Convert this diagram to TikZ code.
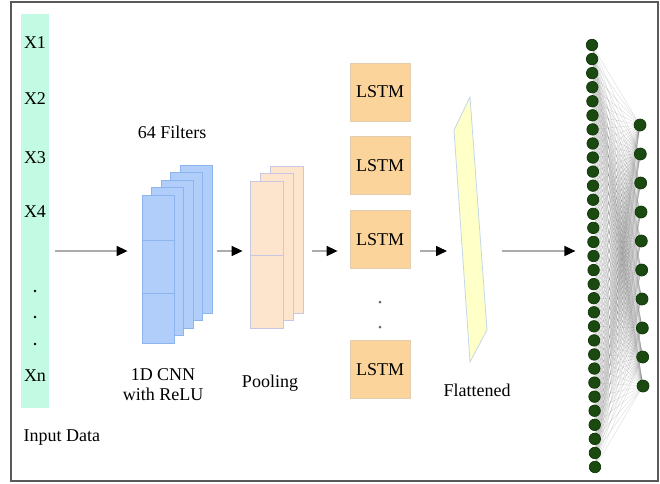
\documentclass[tikz,border=0pt]{standalone}
\usepackage{fontspec}
\setmainfont{Liberation Serif}
\usepackage{tikz}
\usetikzlibrary{arrows.meta, positioning, backgrounds, calc}
\usepackage{xcolor}
\definecolor{inputgreen}{RGB}{195,250,228}
\definecolor{cnnblue}{RGB}{176,206,249}
\definecolor{cnnedge}{RGB}{140,180,238}
\definecolor{poolfill}{RGB}{253,229,205}
\definecolor{pooledge}{RGB}{200,198,225}
\definecolor{lstmfill}{RGB}{250,212,155}
\definecolor{lstmedge}{RGB}{228,205,172}
\definecolor{flatfill}{RGB}{255,255,200}
\definecolor{flatedge}{RGB}{195,215,232}
\definecolor{neurongreen}{RGB}{26,74,16}
\tikzstyle{inputcol} = [rectangle, minimum width=28pt, minimum height=394pt, inner sep=0pt, fill=inputgreen]
\tikzstyle{cnnmap} = [rectangle, minimum width=32pt, minimum height=148pt, inner sep=0pt, draw=cnnedge, fill=cnnblue, line width=0.8pt]
\tikzstyle{poolmap} = [rectangle, minimum width=33pt, minimum height=147pt, inner sep=0pt, draw=pooledge, fill=poolfill, line width=0.8pt]
\tikzstyle{lstm} = [rectangle, minimum width=60pt, minimum height=58pt, text centered, draw=lstmedge, fill=lstmfill, line width=0.8pt]
\tikzstyle{neuron} = [circle, minimum size=11.5pt, inner sep=0pt, fill=neurongreen, draw=neurongreen!70!black, line width=0.7pt]
\tikzstyle{link} = [gray!85!black, line width=0.45pt, opacity=0.22]
\tikzstyle{vdot} = [circle, minimum size=2.6pt, inner sep=0pt, fill=black]
\tikzstyle{arrow} = [gray!65, line width=1.6pt, -{Triangle[length=11pt,width=10pt,color=black]}]

\begin{document}
\begin{tikzpicture}[x=1pt, y=-1pt, font=\fontsize{18}{20}\selectfont]
        \useasboundingbox (0,0) rectangle (660,483);
        \draw [line width=1.3pt, black!65] (11,2) rectangle (658,481);
        \coordinate (axis) at (0,251);

        % input data
        \node (input) [inputcol] at (35,211) {};
        \node (x1) at (35,43) {X1};
        \node (x2) at (35,99) {X2};
        \node (x3) at (35,158) {X3};
        \node (x4) at (35,212) {X4};
        \node (idot1) [vdot] at (35,291) {};
        \node (idot2) [vdot] at (35,317) {};
        \node (idot3) [vdot] at (35,344) {};
        \node (xn) at (35,376) {Xn};
        \node (inlabel) [anchor=west] at (20,438) {Input Data};

        % 1D CNN
        \foreach \k in {4,3,...,0}
            \node (cnn\k) [cnnmap] at ({158+9.5*\k},{269-7.5*\k}) {};
        \draw [cnnedge, line width=0.8pt] (cnn0.west |- 0,240) -- (cnn0.east |- 0,240);
        \draw [cnnedge, line width=0.8pt] (cnn0.west |- 0,293) -- (cnn0.east |- 0,293);
        \node (filters) at (172,132) {64 Filters};
        \node (cnnlabel) [align=center] at (163,385) {1D CNN\\with ReLU};

        % pooling
        \foreach \k in {2,1,0}
            \node (pool\k) [poolmap] at ({266.5+10*\k},{254.5-7.5*\k}) {};
        \draw [pooledge, line width=0.8pt] (pool0.west |- 0,255) -- (pool0.east |- 0,255);
        \node (poollabel) at (270,383) {Pooling};

        % lstm
        \node (lstm1) [lstm] at (380,92) {LSTM};
        \node (lstm2) [lstm, below=15pt of lstm1] {LSTM};
        \node (lstm3) [lstm, below=15pt of lstm2] {LSTM};
        \node (lstm4) [lstm, below=71pt of lstm3] {LSTM};
        \node (ldot1) [vdot, fill=black!60, minimum size=3pt] at (380,302) {};
        \node (ldot2) [vdot, fill=black!60, minimum size=3pt] at (380,327) {};

        % flattened
        \draw [flatedge, fill=flatfill, line width=0.8pt] (470,97) -- (487,330) -- (470,362) -- (454,130) -- cycle;
        \coordinate (flatin) at (462,251);
        \coordinate (flatout) at (481,251);
        \node (flatlabel) at (477,390) {Flattened};

        % dense layers
        \foreach \i in {1,...,31}
            \node (l\i) [neuron] at ({592+3*(\i-1)/30},{45+(\i-1)*422/30}) {};
        \foreach \j in {1,...,10}
            \node (r\j) [neuron, minimum size=12pt] at ({640+3*(\j-1)/9},{125+(\j-1)*29}) {};
        \begin{scope}[on background layer]
            \foreach \i in {1,...,31}
                \foreach \j in {1,...,10}
                    \draw [link] (l\i) -- (r\j);
        \end{scope}

        \draw [arrow, shorten <=6pt, shorten >=14pt] (input.east |- axis) -- (cnn0.west |- axis);
        \draw [arrow, shorten <=5pt, shorten >=7pt] (cnn4.east |- axis) -- (pool0.west |- axis);
        \draw [arrow, shorten <=9pt, shorten >=12pt] (pool2.east |- axis) -- (lstm3.west |- axis);
        \draw [arrow, shorten <=10pt, shorten >=15pt] (lstm3.east |- axis) -- (flatin);
        \draw [arrow, shorten <=21pt, shorten >=12pt] (flatout) -- (l16.west |- axis);
\end{tikzpicture}
\end{document}
